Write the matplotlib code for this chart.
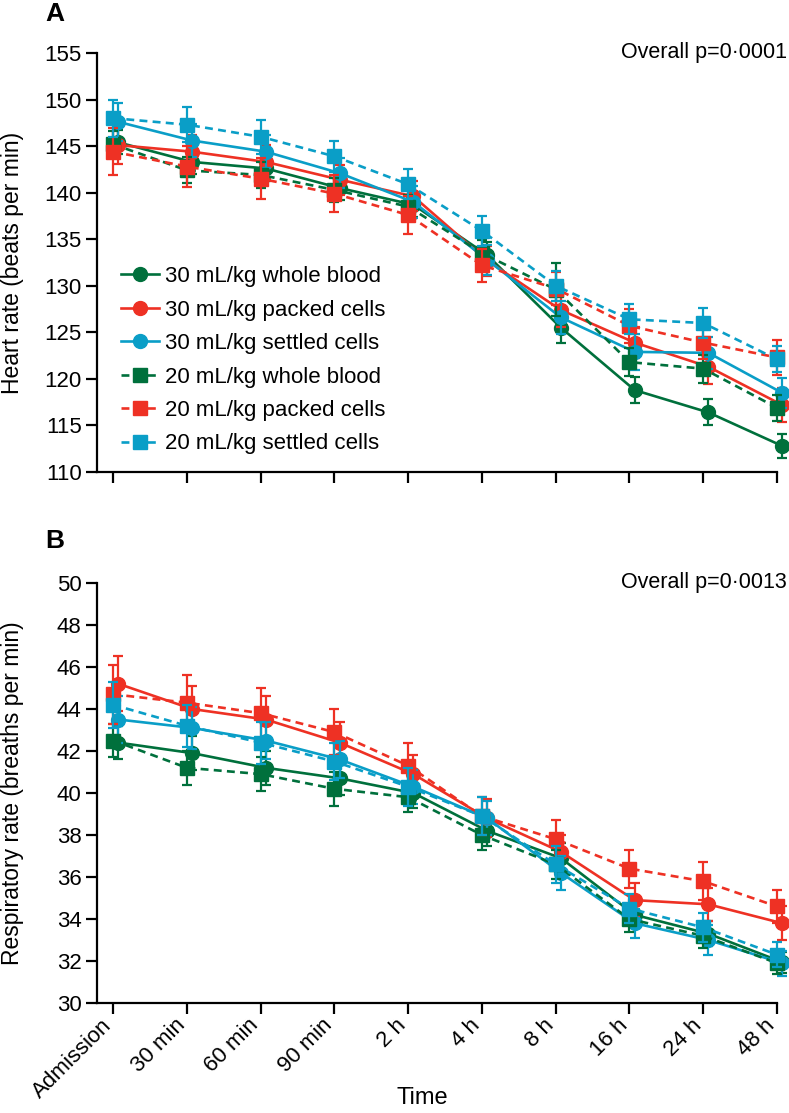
import numpy as np
import matplotlib
matplotlib.use("Agg")
import matplotlib.pyplot as plt
import matplotlib.transforms as mtransforms
from matplotlib.lines import Line2D

plt.rcParams['font.family'] = ['Liberation Sans', 'DejaVu Sans']

times = ["Admission", "30 min", "60 min", "90 min", "2 h", "4 h", "8 h", "16 h", "24 h", "48 h"]
groups = ["30 mL/kg whole blood", "30 mL/kg packed cells", "30 mL/kg settled cells",
          "20 mL/kg whole blood", "20 mL/kg packed cells", "20 mL/kg settled cells"]

# heart rate (beats per min), mean and error
hr_30wb = [145.4, 143.3, 142.6, 140.5, 138.7, 133.3, 125.5, 118.8, 116.4, 112.8]
hr_30pc = [145.1, 144.4, 143.3, 141.4, 139.6, 132.7, 127.4, 123.9, 121.3, 117.2]
hr_30sc = [147.6, 145.6, 144.4, 142.1, 139.0, 132.8, 126.6, 122.9, 122.8, 118.5]
hr_20wb = [145.2, 142.4, 141.9, 140.3, 138.5, 133.5, 129.6, 121.8, 121.1, 116.9]
hr_20pc = [144.4, 142.8, 141.5, 139.9, 137.6, 132.2, 129.7, 125.7, 123.9, 122.3]
hr_20sc = [148.0, 147.3, 146.0, 143.9, 140.9, 135.9, 130.0, 126.4, 126.0, 122.1]
hr_err_30wb = [1.3, 1.3, 1.3, 1.3, 1.3, 1.4, 1.6, 1.4, 1.4, 1.3]
hr_err_30pc = [2.0, 1.8, 1.8, 1.6, 1.6, 1.6, 1.8, 1.7, 1.8, 1.8]
hr_err_30sc = [2.0, 1.8, 1.8, 1.6, 1.7, 1.6, 1.8, 1.9, 1.7, 1.6]
hr_err_20wb = [1.4, 1.4, 1.4, 1.3, 1.3, 1.4, 2.8, 1.5, 1.5, 1.4]
hr_err_20pc = [2.5, 2.2, 2.2, 2.0, 2.0, 1.8, 1.8, 1.8, 1.8, 1.9]
hr_err_20sc = [2.0, 1.9, 1.8, 1.7, 1.6, 1.6, 1.6, 1.6, 1.6, 1.4]

# respiratory rate (breaths per min), mean and error
rr_30wb = [42.4, 41.9, 41.2, 40.7, 40.0, 38.2, 36.9, 34.2, 33.3, 31.95]
rr_30pc = [45.2, 44.0, 43.5, 42.4, 40.9, 38.8, 37.2, 34.9, 34.7, 33.8]
rr_30sc = [43.5, 43.1, 42.5, 41.6, 40.3, 38.8, 36.2, 33.8, 33.0, 31.9]
rr_20wb = [42.5, 41.2, 40.9, 40.2, 39.8, 38.0, 36.6, 34.0, 33.2, 31.9]
rr_20pc = [44.7, 44.3, 43.8, 42.9, 41.3, 38.9, 37.8, 36.4, 35.8, 34.6]
rr_20sc = [44.2, 43.2, 42.4, 41.5, 40.3, 38.9, 36.6, 34.5, 33.6, 32.3]
rr_err_30wb = [0.8, 0.8, 0.8, 0.8, 0.7, 0.7, 0.7, 0.6, 0.6, 0.5]
rr_err_30pc = [1.3, 1.1, 1.1, 1.0, 0.9, 0.9, 0.8, 0.8, 0.8, 0.8]
rr_err_30sc = [1.1, 1.0, 0.9, 0.9, 0.8, 0.8, 0.8, 0.7, 0.7, 0.6]
rr_err_20wb = [0.8, 0.8, 0.8, 0.8, 0.7, 0.7, 0.7, 0.6, 0.6, 0.5]
rr_err_20pc = [1.4, 1.3, 1.2, 1.1, 1.1, 0.9, 0.9, 0.9, 0.9, 0.8]
rr_err_20sc = [1.1, 1.0, 1.0, 0.9, 0.9, 0.9, 0.9, 0.7, 0.7, 0.6]

p_texts = ["Overall p=0\u00b70001", "Overall p=0\u00b70013"]

green, red, cyan = '#00703c', '#ee3124', '#0a9ec7'
colors = [green, red, cyan, green, red, cyan]

hr = [hr_30wb, hr_30pc, hr_30sc, hr_20wb, hr_20pc, hr_20sc]
hr_err = [hr_err_30wb, hr_err_30pc, hr_err_30sc, hr_err_20wb, hr_err_20pc, hr_err_20sc]
rr = [rr_30wb, rr_30pc, rr_30sc, rr_20wb, rr_20pc, rr_20sc]
rr_err = [rr_err_30wb, rr_err_30pc, rr_err_30sc, rr_err_20wb, rr_err_20pc, rr_err_20sc]

fig = plt.figure(figsize=(7.89, 11.13), dpi=100)
axA = fig.add_axes([0.1229, 0.5759, 0.8619, 0.3765])
axB = fig.add_axes([0.1229, 0.0988, 0.8619, 0.3774])

x = np.arange(len(times))


def draw(ax, means, errs):
    # dashed (20 mL/kg) first, solid circles on top
    for i in [3, 4, 5, 0, 1, 2]:
        solid = i < 3
        xs = x + (0.07 if solid else 0.0)
        ax.errorbar(xs, means[i], yerr=errs[i], color=colors[i],
                    linestyle='-' if solid else (0, (3, 2)), linewidth=1.9,
                    marker='o' if solid else 's', markersize=10 if solid else 9.5,
                    elinewidth=1.6, capsize=3.5, capthick=1.6,
                    clip_on=False, zorder=3 + i)
    for s in ['top', 'right']:
        ax.spines[s].set_visible(False)
    for s in ['left', 'bottom']:
        ax.spines[s].set_linewidth(1.6)
    ax.set_xlim(-0.22, 9.0)
    ax.set_xticks(x)
    ax.tick_params(axis='both', length=8, width=1.6, labelsize=16, pad=3)


draw(axA, hr, hr_err)
draw(axB, rr, rr_err)

axA.set_ylim(110, 155)
axA.set_yticks(range(110, 156, 5))
axA.set_xticklabels([])
axA.set_ylabel("Heart rate (beats per min)", fontsize=16.5)

axB.set_ylim(30, 50)
axB.set_yticks(range(30, 51, 2))
axB.set_xticklabels(times, rotation=45, ha='right', va='center', rotation_mode='anchor')
shift = mtransforms.ScaledTranslation(-5 / 100, -4 / 100, fig.dpi_scale_trans)
for lab in axB.get_xticklabels():
    lab.set_transform(lab.get_transform() + shift)
axB.set_ylabel("Respiratory rate (breaths per min)", fontsize=16.5)
axA.yaxis.set_label_coords(-0.107, 0.5)
axB.yaxis.set_label_coords(-0.107, 0.5)

fig.text((422) / 789, 1 - 1098 / 1113, "Time", fontsize=17, ha='center', va='center')

for ax, t in zip([axA, axB], p_texts):
    ax.text(1.0147, 0.988, t, transform=ax.transAxes, ha='right', va='baseline', fontsize=15.5)

fig.text(45 / 789, 1 - 14 / 1113, "A", fontsize=19, fontweight='bold', ha='left', va='center')
fig.text(45 / 789, 1 - 541 / 1113, "B", fontsize=19, fontweight='bold', ha='left', va='center')

handles = []
for i in range(6):
    solid = i < 3
    handles.append(Line2D([0], [0], color=colors[i], linewidth=1.9,
                          linestyle='-' if solid else (0, (3, 2)),
                          marker='o' if solid else 's', markersize=10 if solid else 9.5))
axA.legend(handles, groups, loc='lower left', bbox_to_anchor=(0.015, 0.01), frameon=False,
           fontsize=16, handlelength=1.75, handletextpad=0.25, labelspacing=0.56,
           borderaxespad=0.2)

fig.savefig("out.png", dpi=100)
